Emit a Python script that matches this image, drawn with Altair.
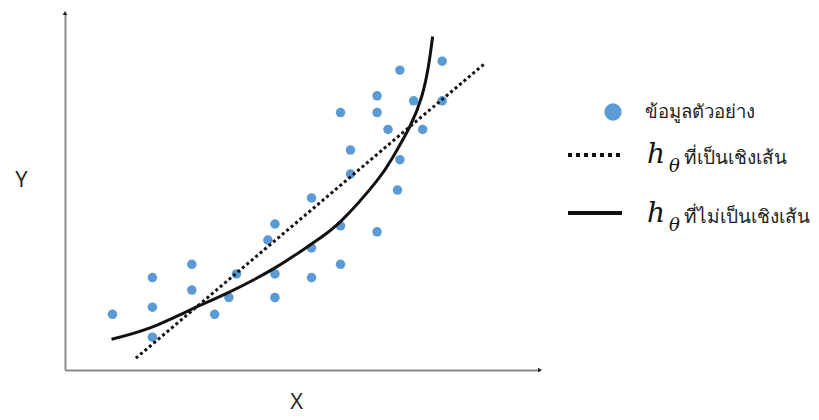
import altair as alt
import pandas as pd

# scatter data (sample points)
pts_x = [1.00, 1.84, 1.84, 1.84, 2.67, 2.67, 3.15, 3.45, 3.61, 4.42, 4.27, 4.42, 4.42, 5.19, 5.19, 5.19,
         5.80, 5.80, 5.80, 6.01, 6.01, 6.57, 6.57, 6.57, 6.80, 7.05, 7.05, 7.00, 7.34, 7.53, 7.94, 7.94]
pts_y = [1.56, 2.59, 1.76, 0.92, 2.96, 2.24, 1.56, 2.03, 2.69, 4.09, 3.64, 2.69, 2.03, 4.82, 3.42, 2.59,
         4.04, 2.96, 7.21, 6.16, 5.49, 7.68, 7.21, 3.87, 6.74, 8.40, 5.89, 5.04, 7.54, 6.74, 8.65, 7.54]

# linear hypothesis
lin_x = [1.49, 8.84]
lin_y = [0.33, 8.59]

# non-linear hypothesis
cur_x = [0.98, 1.79, 2.63, 3.47, 4.42, 5.19, 5.81, 6.56, 6.91, 7.26, 7.51, 7.65, 7.74]
cur_y = [0.86, 1.18, 1.68, 2.19, 2.86, 3.53, 4.17, 5.29, 5.98, 6.82, 7.66, 8.50, 9.34]

# axis arrow heads (at the end of each axis)
arrow_x = [0, 10]
arrow_y = [10, 0]
arrow_shape = ["triangle-up", "triangle-right"]

legend_labels = ["ข้อมูลตัวอย่าง", "ที่เป็นเชิงเส้น", "ที่ไม่เป็นเชิงเส้น"]

BLUE = "#5B9BD5"
W, H = 475, 357

xs = alt.Scale(domain=[0, 10], nice=False, zero=False)
ys = alt.Scale(domain=[0, 10], nice=False, zero=False)

axis_x = alt.Axis(domainColor="#8a8a8a", domainWidth=2, ticks=False, labels=False, grid=False,
                  title="X", titleFont="Open Sans", titleFontSize=22, titleFontWeight="normal",
                  titleColor="#222", titleX=231, titleY=31, titleBaseline="middle", titleAlign="center")
axis_y = alt.Axis(domainColor="#8a8a8a", domainWidth=2, ticks=False, labels=False, grid=False,
                  title="Y", titleFont="Open Sans", titleFontSize=22, titleFontWeight="normal",
                  titleColor="#222", titleAngle=0, titleX=-44, titleY=166, titleBaseline="middle",
                  titleAlign="center")

pts = pd.DataFrame({"x": pts_x, "y": pts_y})
lin = pd.DataFrame({"x": lin_x, "y": lin_y})
cur = pd.DataFrame({"x": cur_x, "y": cur_y})
arr = pd.DataFrame({"x": arrow_x, "y": arrow_y, "s": arrow_shape})

axes = alt.Chart(arr).mark_point(filled=True, color="#222", size=22, opacity=1).encode(
    x=alt.X("x:Q", scale=xs, axis=axis_x),
    y=alt.Y("y:Q", scale=ys, axis=axis_y),
    shape=alt.Shape("s:N", scale=None),
)

scatter = alt.Chart(pts).mark_circle(color=BLUE, size=90, opacity=1).encode(
    x=alt.X("x:Q", scale=xs), y=alt.Y("y:Q", scale=ys))

linear = alt.Chart(lin).mark_line(color="#111", strokeWidth=3, strokeDash=[3, 2.8]).encode(
    x=alt.X("x:Q", scale=xs), y=alt.Y("y:Q", scale=ys))

curve = alt.Chart(cur).mark_line(color="#111", strokeWidth=3, interpolate="natural").encode(
    x=alt.X("x:Q", scale=xs), y=alt.Y("y:Q", scale=ys))

# manual legend
one = pd.DataFrame({"a": [0]})
leg_dot = alt.Chart(one).mark_circle(color=BLUE, size=300, opacity=1).encode(
    x=alt.value(548), y=alt.value(99))
leg_t1 = alt.Chart(one).mark_text(text=legend_labels[0], align="left", baseline="alphabetic",
                                  fontSize=18.5, color="#222").encode(x=alt.value(580), y=alt.value(105))
leg_dash = alt.Chart(one).mark_rule(color="#111", strokeWidth=4, strokeDash=[4, 4]).encode(
    x=alt.value(503), x2=alt.value(557), y=alt.value(142))
leg_solid = alt.Chart(one).mark_rule(color="#111", strokeWidth=4).encode(
    x=alt.value(503), x2=alt.value(557), y=alt.value(200))

def h_theta(yb):
    h = alt.Chart(one).mark_text(text="h", align="left", baseline="alphabetic", fontSize=28,
                                 font="DejaVu Serif", fontStyle="italic", color="#111").encode(
        x=alt.value(582), y=alt.value(yb))
    th = alt.Chart(one).mark_text(text="θ", align="left", baseline="alphabetic", fontSize=18,
                                  font="DejaVu Serif", fontStyle="italic", color="#111").encode(
        x=alt.value(604), y=alt.value(yb + 9))
    return h + th

leg_t2 = alt.Chart(one).mark_text(text=legend_labels[1], align="left", baseline="alphabetic",
                                  fontSize=19, color="#222").encode(x=alt.value(619), y=alt.value(151))
leg_t3 = alt.Chart(one).mark_text(text=legend_labels[2], align="left", baseline="alphabetic",
                                  fontSize=19, color="#222").encode(x=alt.value(619), y=alt.value(210))

chart = alt.layer(
    axes, scatter, linear, curve,
    leg_dot, leg_t1, leg_dash, h_theta(150), leg_t2, leg_solid, h_theta(209), leg_t3,
).properties(
    width=W, height=H,
    autosize=alt.AutoSizeParams(type="none"),
    padding={"left": 57, "top": 5, "right": 271, "bottom": 44},
    background="white",
).configure_view(stroke=None)

chart.save("out.html", embed_options={"renderer": "svg", "actions": False})
